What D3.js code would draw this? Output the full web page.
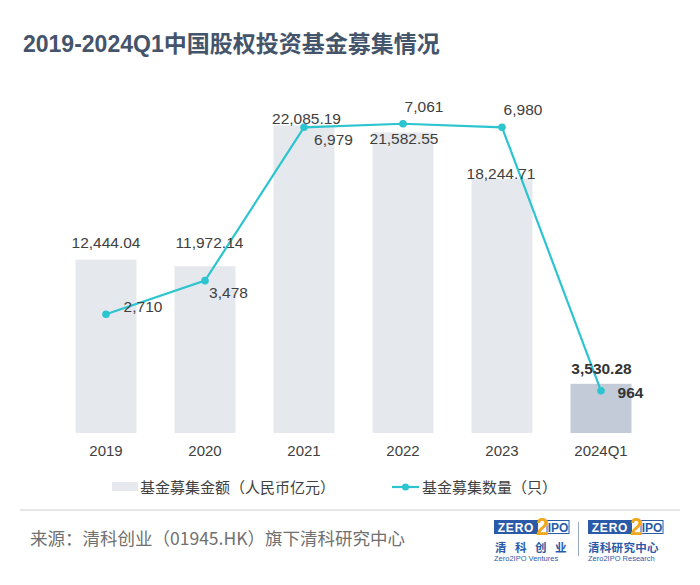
<!DOCTYPE html>
<html><head><meta charset="utf-8">
<script src="https://cdn.jsdelivr.net/npm/d3@7"></script>
<style>
html,body{margin:0;padding:0;background:#fff;}
svg{display:block;font-family:"Liberation Sans","Noto Sans CJK SC",Arial,sans-serif;}
</style></head>
<body>
<svg id="chart" width="700" height="585"></svg>
<script>
const categories = ["2019","2020","2021","2022","2023","2024Q1"];
const amountValues = [12444.04, 11972.14, 22085.19, 21582.55, 18244.71, 3530.28];
const amountLabels = ["12,444.04","11,972.14","22,085.19","21,582.55","18,244.71","3,530.28"];
const countValues = [2710, 3478, 6979, 7061, 6980, 964];
const countLabels = ["2,710","3,478","6,979","7,061","6,980","964"];
const legendLabels = ["基金募集金额（人民币亿元）","基金募集数量（只）"];
const titleText = "2019-2024Q1中国股权投资基金募集情况";
const sourceText = "来源：清科创业（01945.HK）旗下清科研究中心";

// label placement (layout only)
const amountLabelOffset = [[0,-11.5],[4.5,-18.7],[2.5,-1],[1,12],[-1,0],[0.5,-10]];
const countLabelOffset = [[37,-2.8],[23.5,17.8],[29.5,18],[21,-12],[21,-12],[29.5,7]];

const svg = d3.select("#chart");
const baseY = 433;
const x = d3.scaleBand().domain(categories).range([56.5, 650.5]).paddingInner(0.384).paddingOuter(0.192);
const yBar = d3.scaleLinear().domain([0, 25000]).range([baseY, baseY - 348.25]);
const yLine = d3.scaleLinear().domain([0, 8000]).range([baseY, baseY - 350.4]);
const lineColor = "#2cc4cf";
const textColor = "#404040";

// title
svg.append("text").attr("x", 23).attr("y", 51.5)
  .attr("font-size", 23).attr("font-weight", "bold").attr("fill", "#44546a")
  .text(titleText);

// bars
svg.append("g").selectAll("rect").data(amountValues).join("rect")
  .attr("x", (d,i) => x(categories[i]))
  .attr("width", x.bandwidth())
  .attr("y", d => yBar(d))
  .attr("height", d => baseY - yBar(d))
  .attr("fill", (d,i) => i === categories.length - 1 ? "#c3cbd9" : "#e5e8ed");

// line
const line = d3.line().x((d,i) => x(categories[i]) + x.bandwidth()/2).y(d => yLine(d));
svg.append("path").datum(countValues).attr("d", line)
  .attr("fill", "none").attr("stroke", lineColor).attr("stroke-width", 2.2);
svg.append("g").selectAll("circle").data(countValues).join("circle")
  .attr("cx", (d,i) => x(categories[i]) + x.bandwidth()/2)
  .attr("cy", d => yLine(d)).attr("r", 3.8).attr("fill", lineColor);

// amount labels
svg.append("g").selectAll("text").data(amountValues).join("text")
  .attr("x", (d,i) => x(categories[i]) + x.bandwidth()/2 + amountLabelOffset[i][0])
  .attr("y", (d,i) => yBar(d) + amountLabelOffset[i][1])
  .attr("text-anchor", "middle").attr("font-size", 15.5)
  .attr("font-weight", (d,i) => i === categories.length - 1 ? "bold" : "normal")
  .attr("fill", (d,i) => i === categories.length - 1 ? "#333" : textColor)
  .text((d,i) => amountLabels[i]);

// count labels
svg.append("g").selectAll("text").data(countValues).join("text")
  .attr("x", (d,i) => x(categories[i]) + x.bandwidth()/2 + countLabelOffset[i][0])
  .attr("y", (d,i) => yLine(d) + countLabelOffset[i][1])
  .attr("text-anchor", "middle").attr("font-size", 15.5)
  .attr("font-weight", (d,i) => i === categories.length - 1 ? "bold" : "normal")
  .attr("fill", (d,i) => i === categories.length - 1 ? "#333" : textColor)
  .text((d,i) => countLabels[i]);

// x axis labels
const xAxis = d3.axisBottom(x).tickSize(0).tickPadding(12);
const ax = svg.append("g").attr("transform", `translate(0,${baseY})`).call(xAxis);
ax.select(".domain").remove();
ax.selectAll("text").attr("font-size", 15).attr("fill", textColor)
  .attr("font-family", "Liberation Sans, Arial, sans-serif");

// legend
const lg = svg.append("g");
lg.append("rect").attr("x", 112).attr("y", 482).attr("width", 26).attr("height", 9).attr("fill", "#e5e8ed");
lg.append("text").attr("x", 140).attr("y", 492.5).attr("font-size", 15).attr("fill", textColor)
  .attr("font-family", "Noto Sans CJK SC, sans-serif").text(legendLabels[0]);
lg.append("line").attr("x1", 392).attr("x2", 419).attr("y1", 487).attr("y2", 487)
  .attr("stroke", lineColor).attr("stroke-width", 2.2);
lg.append("circle").attr("cx", 405.5).attr("cy", 487).attr("r", 3.5).attr("fill", lineColor);
lg.append("text").attr("x", 422).attr("y", 492.5).attr("font-size", 15).attr("fill", textColor)
  .attr("font-family", "Noto Sans CJK SC, sans-serif").text(legendLabels[1]);

// separator
svg.append("line").attr("x1", 20).attr("x2", 680).attr("y1", 510).attr("y2", 510)
  .attr("stroke", "#e6e6e6").attr("stroke-width", 2);

// source
svg.append("text").attr("x", 30).attr("y", 544.5).attr("font-size", 17.5).attr("fill", "#707070")
  .attr("font-family", "Noto Sans CJK SC, sans-serif").text(sourceText);

// logos
function logo(x0, cn, en, spaced) {
  const g = svg.append("g").attr("transform", `translate(${x0},0)`);
  g.append("rect").attr("x", 0).attr("y", 520).attr("width", 44).attr("height", 14).attr("fill", "#2b5ba8");
  g.append("text").attr("x", 22).attr("y", 532).attr("text-anchor", "middle").attr("font-size", 12)
    .attr("font-weight", "bold").attr("fill", "#fff").attr("letter-spacing", 0.8).text("ZERO");
  g.append("rect").attr("x", 53).attr("y", 520.5).attr("width", 22).attr("height", 13)
    .attr("fill", "#fff").attr("stroke", "#2b5ba8").attr("stroke-width", 1);
  g.append("text").attr("x", 64).attr("y", 532).attr("text-anchor", "middle").attr("font-size", 12)
    .attr("font-weight", "bold").attr("fill", "#2b5ba8").text("IPO");
  g.append("text").attr("x", 48.5).attr("y", 535).attr("text-anchor", "middle").attr("font-size", 23)
    .attr("font-weight", "bold").attr("fill", "#f0a81c").text("2");
  g.append("text").attr("x", spaced ? 1 : 0).attr("y", 552).attr("font-size", 11.5).attr("font-weight", "bold")
    .attr("fill", "#2b5ba8").attr("letter-spacing", spaced ? 8.5 : 0.3)
    .attr("font-family", "Noto Sans CJK SC, sans-serif").text(cn);
  g.append("text").attr("x", 0).attr("y", 561).attr("font-size", 7.5).attr("fill", "#2b5ba8").text(en);
}
logo(494, "清科创业", "Zero2IPO Ventures", true);
logo(588, "清科研究中心", "Zero2IPO Research", false);
svg.append("line").attr("x1", 578.5).attr("x2", 578.5).attr("y1", 522).attr("y2", 556)
  .attr("stroke", "#9aa8c0").attr("stroke-width", 1);
</script>
</body></html>
